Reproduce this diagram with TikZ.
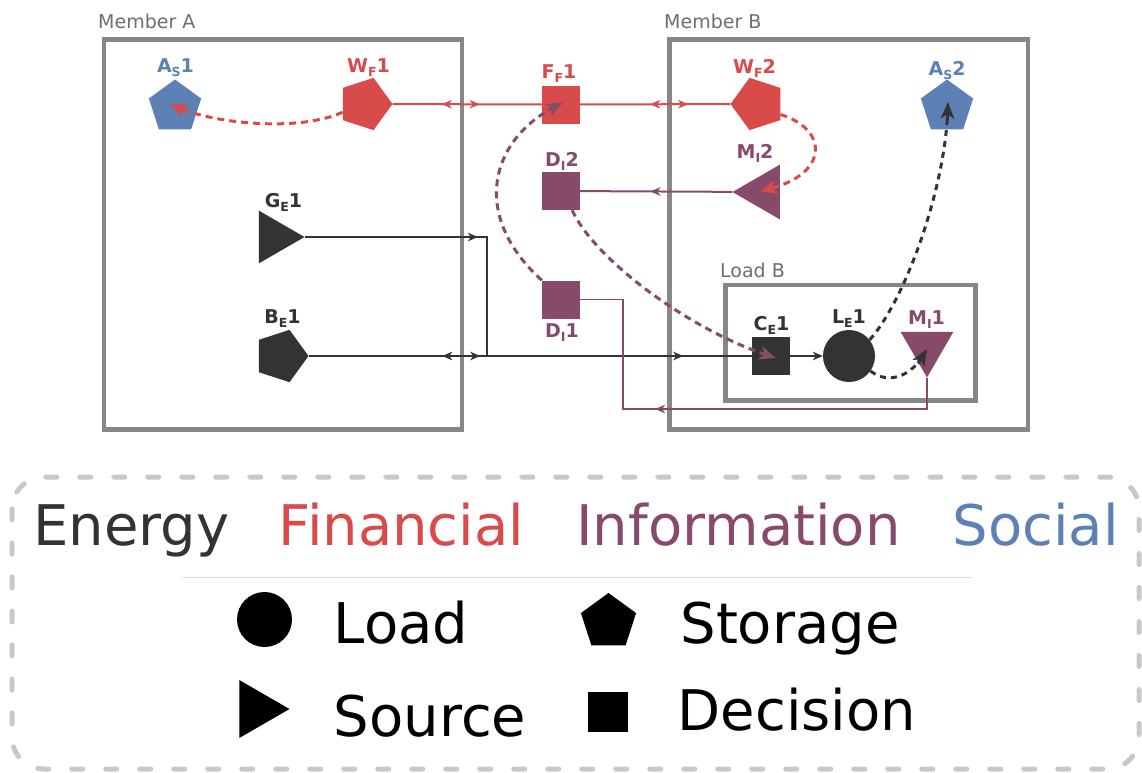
\documentclass[tikz,border=0pt]{standalone}
\usepackage{fontspec}
\setmainfont{DejaVu Sans}
\usetikzlibrary{shapes.geometric,arrows.meta,decorations.markings,calc}
\definecolor{cE}{RGB}{51,51,51}
\definecolor{cF}{RGB}{217,75,75}
\definecolor{cI}{RGB}{135,74,106}
\definecolor{cS}{RGB}{94,129,181}
\definecolor{cBox}{RGB}{135,135,135}
\definecolor{cBoxText}{RGB}{110,110,110}
\definecolor{cLeg}{RGB}{200,200,200}
\newcommand{\nlab}[3]{#1\raisebox{-4pt}{\fontsize{12.5}{12.5}\selectfont #2}#3}
\begin{document}
\begin{tikzpicture}[x=1pt,y=-1pt,
  >={Stealth[length=10pt,width=8.5pt,inset=3pt]},
  pent/.style={regular polygon, regular polygon sides=5, minimum size=55pt, inner sep=0pt},
  tri/.style={regular polygon, regular polygon sides=3, minimum size=63pt, inner sep=0pt},
  dec/.style={rectangle, minimum size=38pt, inner sep=0pt},
  lab/.style={anchor=base, inner sep=0pt, font=\fontsize{19}{19}\selectfont\bfseries},
  memb/.style={anchor=base west, inner sep=0pt, text=cBoxText, font=\fontsize{19}{20}\selectfont},
  box/.style={draw=cBox, line width=4.5pt},
  conn/.style={line width=2pt},
  dconn/.style={line width=3pt, dash pattern=on 7pt off 5pt, shorten >=8pt},
  dtip/.style={line width=3pt, solid, -{Stealth[length=17pt,width=14pt,inset=5pt,line width=0pt]}},
  legtxt/.style={anchor=base, inner sep=0pt, font=\fontsize{56}{60}\selectfont},
  bidir/.style 2 args={postaction={decorate}, decoration={markings,
     mark=at position #1 with {\arrowreversed{>}},
     mark=at position #2 with {\arrow{>}}}},
  onearr/.style={postaction={decorate}, decoration={markings,
     mark=at position #1 with {\arrow{>}}}},
  threearr/.style n args={3}{postaction={decorate}, decoration={markings,
     mark=at position #1 with {\arrowreversed{>}},
     mark=at position #2 with {\arrow{>}},
     mark=at position #3 with {\arrow{>}}}}
]
\useasboundingbox (0,0) rectangle (1142,772);

% group boxes
\draw[box] (104,39.5) rectangle (462,429.5);
\draw[box] (669.5,39.5) rectangle (1028,429.5);
\draw[box] (725.5,285) rectangle (975.5,400.5);
\node[memb] (lblA) at (98,28) {Member A};
\node[memb] (lblB) at (664,28) {Member B};
\node[memb] (lblL) at (720,277) {Load B};

% nodes
\node[pent, fill=cS] (AS1) at (175,107) {};
\node[pent, fill=cF, regular polygon rotate=-90] (WF1) at (365,104) {};
\node[dec, fill=cF] (FF1) at (561,104.5) {};
\node[pent, fill=cF, regular polygon rotate=90] (WF2) at (758,104) {};
\node[pent, fill=cS] (AS2) at (947,107) {};
\node[dec, fill=cI] (DI2) at (561,191) {};
\node[tri, fill=cI, regular polygon rotate=90] (MI2) at (764,192) {};
\node[tri, fill=cE, regular polygon rotate=-90, minimum size=61pt] (GE1) at (274,237) {};
\node[pent, fill=cE, regular polygon rotate=-90] (BE1) at (281,356) {};
\node[dec, fill=cI] (DI1) at (561,299.5) {};
\node[dec, fill=cE] (CE1) at (771,356) {};
\node[circle, fill=cE, minimum size=52pt, inner sep=0pt] (LE1) at (849,356) {};
\node[tri, fill=cI, regular polygon rotate=180, minimum size=61pt] (MI1) at (927,347) {};

% labels
\node[lab, text=cS] (tAS1) at (175.5,72) {\nlab{A}{S}{1}};
\node[lab, text=cF] (tWF1) at (368.5,72) {\nlab{W}{F}{1}};
\node[lab, text=cF] (tFF1) at (559,78) {\nlab{F}{F}{1}};
\node[lab, text=cF] (tWF2) at (754.5,73) {\nlab{W}{F}{2}};
\node[lab, text=cS] (tAS2) at (947,75) {\nlab{A}{S}{2}};
\node[lab, text=cI] (tDI2) at (562,166) {\nlab{D}{I}{2}};
\node[lab, text=cI] (tMI2) at (755,158) {\nlab{M}{I}{2}};
\node[lab, text=cE] (tGE1) at (283.5,207) {\nlab{G}{E}{1}};
\node[lab, text=cE] (tBE1) at (282.5,323) {\nlab{B}{E}{1}};
\node[lab, text=cI] (tDI1) at (562,337) {\nlab{D}{I}{1}};
\node[lab, text=cE] (tCE1) at (771.5,330) {\nlab{C}{E}{1}};
\node[lab, text=cE] (tLE1) at (849,323) {\nlab{L}{E}{1}};
\node[lab, text=cI] (tMI1) at (926.5,324) {\nlab{M}{I}{1}};

% solid connectors
\draw[conn, cF, bidir={49pt}{87pt}] (WF1) -- (FF1);
\draw[conn, cF, bidir={70pt}{108pt}] (FF1) -- (WF2);
\coordinate (J) at (487,356);
\draw[conn, cE, onearr=173pt] (GE1) -| (J);
\draw[conn, cE, threearr={133.5pt}{171.5pt}{374.5pt}] (BE1) -- (CE1);
\draw[conn, cE, ->] (CE1) -- (LE1);
\draw[conn, cI, onearr=82pt] (MI2) -- (DI2);
\coordinate (K) at (623,409);
\draw[conn, cI, line width=1.8pt, onearr=303pt] (MI1.corner 1) |- (K) |- (DI1.east);

% dashed connectors (curve, then its solid tip along the end tangent)
\coordinate (eAS1) at ($(AS1)+(-5,-3)$);
\coordinate (eMI2) at ($(MI2)+(-4,-1)$);
\coordinate (eCE1) at ($(CE1)+(5,2)$);
\coordinate (eFF1) at ($(FF1)+(2,-2)$);
\coordinate (eMI1) at ($(MI1)+(0,2)$);
\coordinate (eAS2) at ($(AS2)+(1,-5)$);

\draw[dconn, cF] (WF1.200) .. controls (300,132) and (215,124) .. (eAS1);
\draw[dtip, cF] ($(eAS1)!17pt!(215,124)$) -- (eAS1);

\draw[dconn, cF] (WF2.-25) .. controls (830,130) and (828,175) .. (eMI2);
\draw[dtip, cF] ($(eMI2)!17pt!(828,175)$) -- (eMI2);

\draw[dconn, cI] (DI2.-60) .. controls (595,260) and (690,330) .. (eCE1);
\draw[dtip, cI] ($(eCE1)!17pt!(690,330)$) -- (eCE1);

\draw[dconn, cI] (DI1.north west) .. controls (470,215) and (490,140) .. (eFF1);
\draw[dtip, cI] ($(eFF1)!17pt!(490,140)$) -- (eFF1);

\draw[dconn, cE, dash pattern=on 6pt off 5pt] (LE1.-35) .. controls (890,386) and (912,374) .. (eMI1);
\draw[dtip, cE] ($(eMI1)!17pt!(912,374)$) -- (eMI1);

\draw[dconn, cE, dash pattern=on 6pt off 5pt] (LE1.38) .. controls (905,300) and (945,190) .. (eAS2);
\draw[dtip, cE] ($(eAS2)!17pt!(945,190)$) -- (eAS2);

% legend
\draw[cLeg, line width=5pt, rounded corners=32pt, dash pattern=on 11pt off 23pt, line cap=round] (12,477) rectangle (1139,769);
\draw[black!25, line width=1pt, dash pattern=on 1pt off 1pt] (182,577) -- (971,577);
\node[legtxt, text=cE] (lE) at (131.5,545) {Energy};
\node[legtxt, text=cF] (lF) at (401.5,545) {Financial};
\node[legtxt, text=cI] (lI) at (738.5,545) {Information};
\node[legtxt, text=cS] (lS) at (1035.5,545) {Social};
\node[circle, fill=black, minimum size=55pt, inner sep=0pt] (sLoad) at (264.5,619.5) {};
\node[legtxt] (tLoad) at (401,643) {Load};
\node[pent, fill=black, minimum size=58pt] (sSto) at (608.5,622) {};
\node[legtxt] (tSto) at (790,643) {Storage};
\node[tri, fill=black, regular polygon rotate=-90, minimum size=67pt] (sSrc) at (256,709) {};
\node[legtxt] (tSrc) at (430,736) {Source};
\node[dec, fill=black, minimum size=40pt] (sDec) at (608,711.5) {};
\node[legtxt] (tDec) at (797,730) {Decision};
\end{tikzpicture}
\end{document}
